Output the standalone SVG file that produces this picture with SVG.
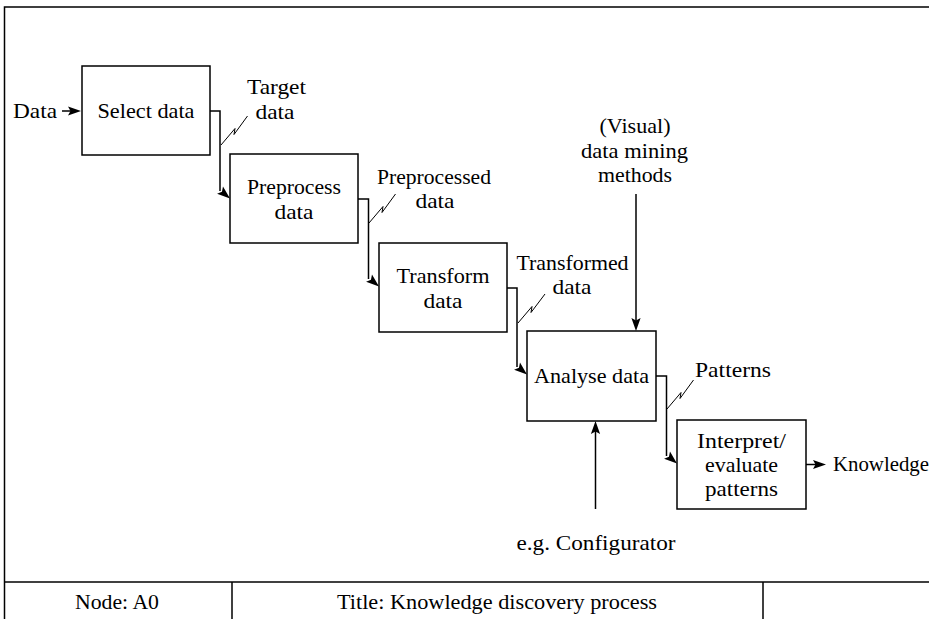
<svg xmlns="http://www.w3.org/2000/svg" xmlns:xlink="http://www.w3.org/1999/xlink" width="929" height="619" viewBox="0 0 929 619">
  <style>
    .box { fill: #fff; stroke: #000; stroke-width: 1.5; }
    .frame { fill: none; stroke: #000; stroke-width: 1.5; }
    .wire { fill: none; stroke: #000; stroke-width: 1.5; }
    .bolt { fill: none; stroke: #000; stroke-width: 1; }
    text { font-size: 20.4px; fill: #000; }
    .c { text-anchor: middle; }
  </style>
  <defs>
    <!-- filled arrowhead, tip at origin, pointing along +x -->
    <path id="ah" d="M0,0 L-13,-4.6 L-10.5,0 L-13,4.6 Z" fill="#000"/>
  </defs>

  <g font-family="'Liberation Serif', 'DejaVu Serif', 'Times New Roman', serif">
  <!-- drawing frame and title block -->
  <g id="frame">
    <path class="frame" d="M4.5,620 V7 H930" stroke-width="2"/>
    <line class="frame" x1="4.5" y1="582" x2="930" y2="582"/>
    <line class="frame" x1="232" y1="582" x2="232" y2="620"/>
    <line class="frame" x1="763" y1="582" x2="763" y2="620"/>
    <text class="c" x="117" y="609" textLength="84" lengthAdjust="spacingAndGlyphs">Node: A0</text>
    <text class="c" x="497" y="609" textLength="320" lengthAdjust="spacingAndGlyphs">Title: Knowledge discovery process</text>
  </g>

  <!-- activity boxes -->
  <g id="select">
    <rect class="box" x="82" y="66" width="128" height="89"/>
    <text class="c" x="146" y="118" textLength="97" lengthAdjust="spacingAndGlyphs">Select data</text>
  </g>
  <g id="preprocess">
    <rect class="box" x="230" y="154" width="128" height="89"/>
    <text class="c" x="294" y="194" textLength="94" lengthAdjust="spacingAndGlyphs">Preprocess</text>
    <text class="c" x="294" y="219" textLength="39" lengthAdjust="spacingAndGlyphs">data</text>
  </g>
  <g id="transform">
    <rect class="box" x="379" y="243" width="128" height="89"/>
    <text class="c" x="443" y="283" textLength="93" lengthAdjust="spacingAndGlyphs">Transform</text>
    <text class="c" x="443" y="307.5" textLength="39" lengthAdjust="spacingAndGlyphs">data</text>
  </g>
  <g id="analyse">
    <rect class="box" x="527" y="331" width="129" height="90"/>
    <text class="c" x="591.5" y="383" textLength="115" lengthAdjust="spacingAndGlyphs">Analyse data</text>
  </g>
  <g id="interpret">
    <rect class="box" x="677" y="420" width="129" height="89"/>
    <text class="c" x="741.5" y="448" textLength="89" lengthAdjust="spacingAndGlyphs">Interpret/</text>
    <text class="c" x="741.5" y="472" textLength="73" lengthAdjust="spacingAndGlyphs">evaluate</text>
    <text class="c" x="741.5" y="496" textLength="73" lengthAdjust="spacingAndGlyphs">patterns</text>
  </g>

  <!-- connectors -->
  <g id="connectors">
    <!-- input -->
    <line class="wire" x1="62" y1="111" x2="72" y2="111"/>
    <use xlink:href="#ah" transform="translate(81,111)"/>
    <text x="13" y="118" textLength="44" lengthAdjust="spacingAndGlyphs">Data</text>

    <!-- Select -> Preprocess -->
    <path class="wire" d="M210,111 H220 V191"/>
    <use xlink:href="#ah" transform="translate(230,198.5) rotate(40)"/>
    <polyline class="bolt" points="221,145 235,128.5 234,134.5 247.5,116"/>
    <text class="c" x="276.5" y="94" textLength="59" lengthAdjust="spacingAndGlyphs">Target</text>
    <text class="c" x="275" y="118.5" textLength="39" lengthAdjust="spacingAndGlyphs">data</text>

    <!-- Preprocess -> Transform -->
    <path class="wire" d="M358,199 H368.5 V279"/>
    <use xlink:href="#ah" transform="translate(379,286.5) rotate(40)"/>
    <polyline class="bolt" points="369,223 383,206.5 382,212.5 395.5,194"/>
    <text class="c" x="434" y="183.5" textLength="114" lengthAdjust="spacingAndGlyphs">Preprocessed</text>
    <text class="c" x="435" y="208" textLength="39" lengthAdjust="spacingAndGlyphs">data</text>

    <!-- Transform -> Analyse -->
    <path class="wire" d="M507,288 H517 V367"/>
    <use xlink:href="#ah" transform="translate(527,374.5) rotate(40)"/>
    <polyline class="bolt" points="518,323 532,306.5 531,312.5 545,294"/>
    <text class="c" x="572.5" y="269.5" textLength="112" lengthAdjust="spacingAndGlyphs">Transformed</text>
    <text class="c" x="572" y="293.5" textLength="39" lengthAdjust="spacingAndGlyphs">data</text>

    <!-- Analyse -> Interpret -->
    <path class="wire" d="M656,376 H666.5 V456"/>
    <use xlink:href="#ah" transform="translate(677,463.5) rotate(40)"/>
    <polyline class="bolt" points="667,409 681,392.5 680,398.5 693.5,380"/>
    <text x="695" y="376.5" textLength="76" lengthAdjust="spacingAndGlyphs">Patterns</text>

    <!-- output -->
    <line class="wire" x1="806" y1="464.5" x2="816" y2="464.5"/>
    <use xlink:href="#ah" transform="translate(826,464.5)"/>
    <text x="833" y="471" textLength="96" lengthAdjust="spacingAndGlyphs">Knowledge</text>

    <!-- control: methods -->
    <line class="wire" x1="636" y1="194" x2="636" y2="322"/>
    <use xlink:href="#ah" transform="translate(636,331) rotate(90)"/>
    <text class="c" x="635" y="133" textLength="71" lengthAdjust="spacingAndGlyphs">(Visual)</text>
    <text class="c" x="634.5" y="157.5" textLength="107" lengthAdjust="spacingAndGlyphs">data mining</text>
    <text class="c" x="635" y="182" textLength="74" lengthAdjust="spacingAndGlyphs">methods</text>

    <!-- mechanism: configurator -->
    <line class="wire" x1="595.5" y1="509" x2="595.5" y2="430"/>
    <use xlink:href="#ah" transform="translate(595.5,421) rotate(-90)"/>
    <text class="c" x="596" y="550" textLength="159" lengthAdjust="spacingAndGlyphs">e.g. Configurator</text>
  </g>
  </g>
</svg>
